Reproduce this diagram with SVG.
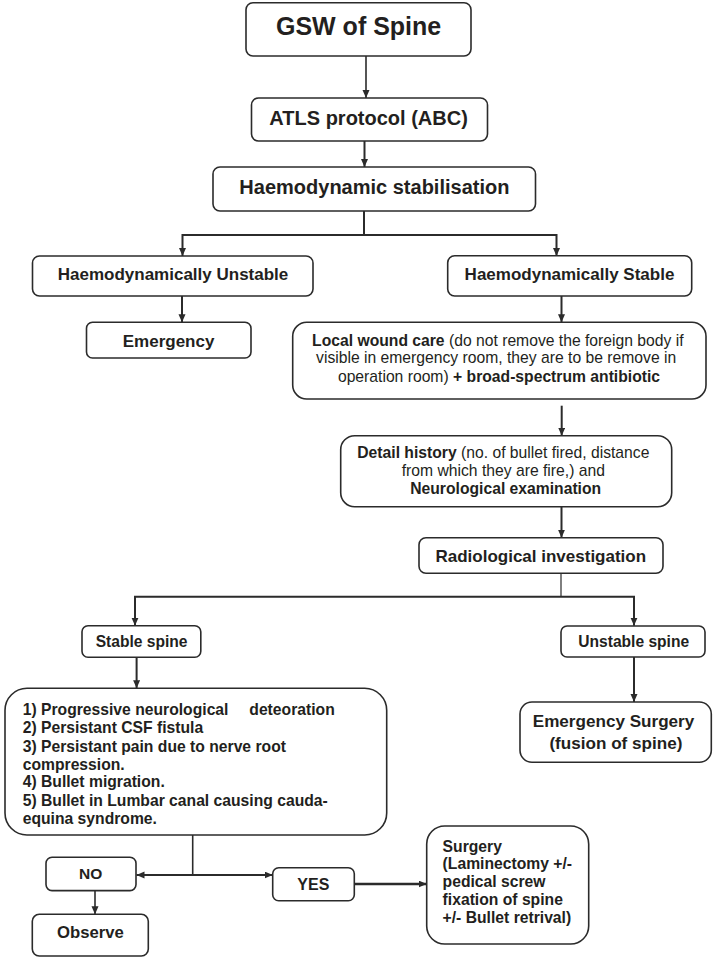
<svg xmlns="http://www.w3.org/2000/svg" width="714" height="959" viewBox="0 0 714 959">
<style>
  .box { fill: #ffffff; stroke: #2b2b2b; stroke-width: 1.6; }
  .t { font-family: "Liberation Sans", Arial, sans-serif; fill: #231f20; font-weight: bold; }
  .c { text-anchor: middle; }
  .r { font-weight: normal; }
  .b { font-weight: bold; }
  .ln { fill: none; stroke: #2b2b2b; stroke-width: 2; }
  .thin { fill: none; stroke: #2b2b2b; stroke-width: 1.2; }
</style>
<defs>
  <marker id="ah" markerUnits="userSpaceOnUse" markerWidth="9" markerHeight="8" refX="8" refY="3.5" orient="auto">
    <path d="M0,0 L8,3.5 L0,7 z" fill="#2b2b2b"/>
  </marker>
  <marker id="ahs" markerUnits="userSpaceOnUse" markerWidth="9" markerHeight="8" refX="8" refY="3.5" orient="auto-start-reverse">
    <path d="M0,0 L8,3.5 L0,7 z" fill="#2b2b2b"/>
  </marker>
</defs>
<rect width="714" height="959" fill="#ffffff"/>

<g id="connectors">
  <line class="ln" x1="366" y1="56" x2="366" y2="98" marker-end="url(#ah)" style="stroke-width:1.6"/>
  <line class="ln" x1="364.5" y1="141" x2="364.5" y2="167" marker-end="url(#ah)"/>
  <polyline class="ln" points="364,211 364,235"/>
  <polyline class="ln" points="182.5,256 182.5,235 556.5,235 556.5,256" marker-start="url(#ahs)" marker-end="url(#ah)"/>
  <line class="ln" x1="182" y1="296" x2="182" y2="322.3" marker-end="url(#ah)"/>
  <line class="ln" x1="561.5" y1="296" x2="561.5" y2="322.3" marker-end="url(#ah)"/>
  <line class="ln" x1="561.7" y1="405.7" x2="561.7" y2="435.7" marker-end="url(#ah)"/>
  <line class="ln" x1="561.5" y1="506.7" x2="561.5" y2="537.7" marker-end="url(#ah)"/>
  <line class="thin" x1="561" y1="573.3" x2="561" y2="596.7"/>
  <polyline class="ln" points="135,625.7 135,596.7 634,596.7 634,625.7" marker-start="url(#ahs)" marker-end="url(#ah)"/>
  <line class="ln" x1="136.6" y1="657.3" x2="136.6" y2="688.3" marker-end="url(#ah)"/>
  <line class="ln" x1="634" y1="657" x2="634" y2="702" marker-end="url(#ah)"/>
  <line class="thin" x1="192.7" y1="835" x2="192.7" y2="875" style="stroke-width:1.6"/>
  <line class="ln" x1="136.5" y1="875" x2="272.7" y2="875" marker-start="url(#ahs)" marker-end="url(#ah)"/>
  <line class="thin" x1="95" y1="890.7" x2="95" y2="914.3" marker-end="url(#ah)" style="stroke-width:1.6"/>
  <line class="ln" x1="354.3" y1="884" x2="426.7" y2="884" marker-end="url(#ah)" style="stroke-width:2.4"/>
</g>

<g id="gsw">
  <rect class="box" x="246" y="2.7" width="225" height="53.3" rx="7"/>
  <text class="t c" x="358.6" y="35" font-size="25">GSW of Spine</text>
</g>
<g id="atls">
  <rect class="box" x="251.5" y="98" width="236" height="43" rx="7"/>
  <text class="t c" x="368.6" y="125" font-size="20">ATLS protocol (ABC)</text>
</g>
<g id="stabilisation">
  <rect class="box" x="213" y="167" width="322.5" height="44" rx="7"/>
  <text class="t c" x="374.4" y="194" font-size="20">Haemodynamic stabilisation</text>
</g>
<g id="unstable">
  <rect class="box" x="32.5" y="256" width="280.5" height="40" rx="7"/>
  <text class="t c" x="173" y="280" font-size="17">Haemodynamically Unstable</text>
</g>
<g id="stable">
  <rect class="box" x="447.7" y="255.7" width="244" height="40.3" rx="7"/>
  <text class="t c" x="569.5" y="279.5" font-size="17">Haemodynamically Stable</text>
</g>
<g id="emergency">
  <rect class="box" x="86.5" y="322.3" width="164.5" height="35.7" rx="6"/>
  <text class="t c" x="168.6" y="347" font-size="17">Emergency</text>
</g>
<g id="wound-care">
  <rect class="box" x="292.7" y="322.3" width="413.3" height="76.7" rx="14"/>
  <text class="t c" font-size="15.7">
    <tspan x="500" y="345.7"><tspan class="b">Local wound care</tspan><tspan class="r"> (do not remove the foreign body if</tspan></tspan>
    <tspan class="r" x="498.3" y="363.3">visible in emergency room, they are to be remove in</tspan>
    <tspan x="499" y="381.7"><tspan class="r">operation room) </tspan><tspan class="b">+ broad-spectrum antibiotic</tspan></tspan>
  </text>
</g>
<g id="history">
  <rect class="box" x="340.7" y="435.7" width="331" height="71" rx="14"/>
  <text class="t c" font-size="15.7">
    <tspan x="505.5" y="457.7"><tspan class="b">Detail history</tspan><tspan class="r"> (no. of bullet fired, distance</tspan></tspan>
    <tspan class="r" x="505.5" y="475.7">from which they are fire,) and</tspan>
    <tspan class="b" x="505.7" y="494">Neurological examination</tspan>
  </text>
</g>
<g id="radiological">
  <rect class="box" x="419" y="537.7" width="244" height="35.6" rx="7"/>
  <text class="t c" x="540.8" y="561.7" font-size="17">Radiological investigation</text>
</g>
<g id="stable-spine">
  <rect class="box" x="82" y="625.7" width="118.8" height="31.6" rx="6"/>
  <text class="t c" x="141.6" y="646.7" font-size="15.6">Stable spine</text>
</g>
<g id="unstable-spine">
  <rect class="box" x="561" y="626" width="144" height="31" rx="6"/>
  <text class="t c" x="633.7" y="646.7" font-size="15.6">Unstable spine</text>
</g>
<g id="emergency-surgery">
  <rect class="box" x="520" y="702" width="191.3" height="60.3" rx="12"/>
  <text class="t c" font-size="17.1">
    <tspan x="615.9" y="726.7">Emergency Surgery</tspan>
    <tspan x="615.9" y="749">(fusion of spine)</tspan>
  </text>
</g>
<g id="criteria">
  <rect class="box" x="5" y="688.3" width="381.7" height="146.7" rx="22"/>
  <text class="t" font-size="15.7">
    <tspan x="22.7" y="715">1) Progressive neurological</tspan><tspan x="249.3" y="715">deteoration</tspan>
    <tspan x="22.7" y="733.3">2) Persistant CSF fistula</tspan>
    <tspan x="22.7" y="751.7">3) Persistant pain due to nerve root</tspan>
    <tspan x="22.7" y="770">compression.</tspan>
    <tspan x="22.7" y="787.3">4) Bullet migration.</tspan>
    <tspan x="22.7" y="806">5) Bullet in Lumbar canal causing cauda-</tspan>
    <tspan x="22.7" y="824">equina syndrome.</tspan>
  </text>
</g>
<g id="no">
  <rect class="box" x="46" y="857.3" width="90" height="33.3" rx="6"/>
  <text class="t c" x="90.7" y="879.3" font-size="15.5">NO</text>
</g>
<g id="yes">
  <rect class="box" x="272.7" y="867.7" width="81.6" height="33" rx="6"/>
  <text class="t c" x="313.3" y="890" font-size="16">YES</text>
</g>
<g id="surgery">
  <rect class="box" x="426.7" y="826" width="162" height="118" rx="18"/>
  <text class="t" font-size="15.7">
    <tspan x="442.6" y="851.7">Surgery</tspan>
    <tspan x="442.6" y="869.3">(Laminectomy +/-</tspan>
    <tspan x="442.6" y="887.3">pedical screw</tspan>
    <tspan x="442.6" y="905">fixation of spine</tspan>
    <tspan x="442.6" y="922.7">+/- Bullet retrival)</tspan>
  </text>
</g>
<g id="observe">
  <rect class="box" x="32.3" y="914.3" width="116" height="41.7" rx="7"/>
  <text class="t c" x="90.5" y="938.3" font-size="16.7">Observe</text>
</g>
</svg>
